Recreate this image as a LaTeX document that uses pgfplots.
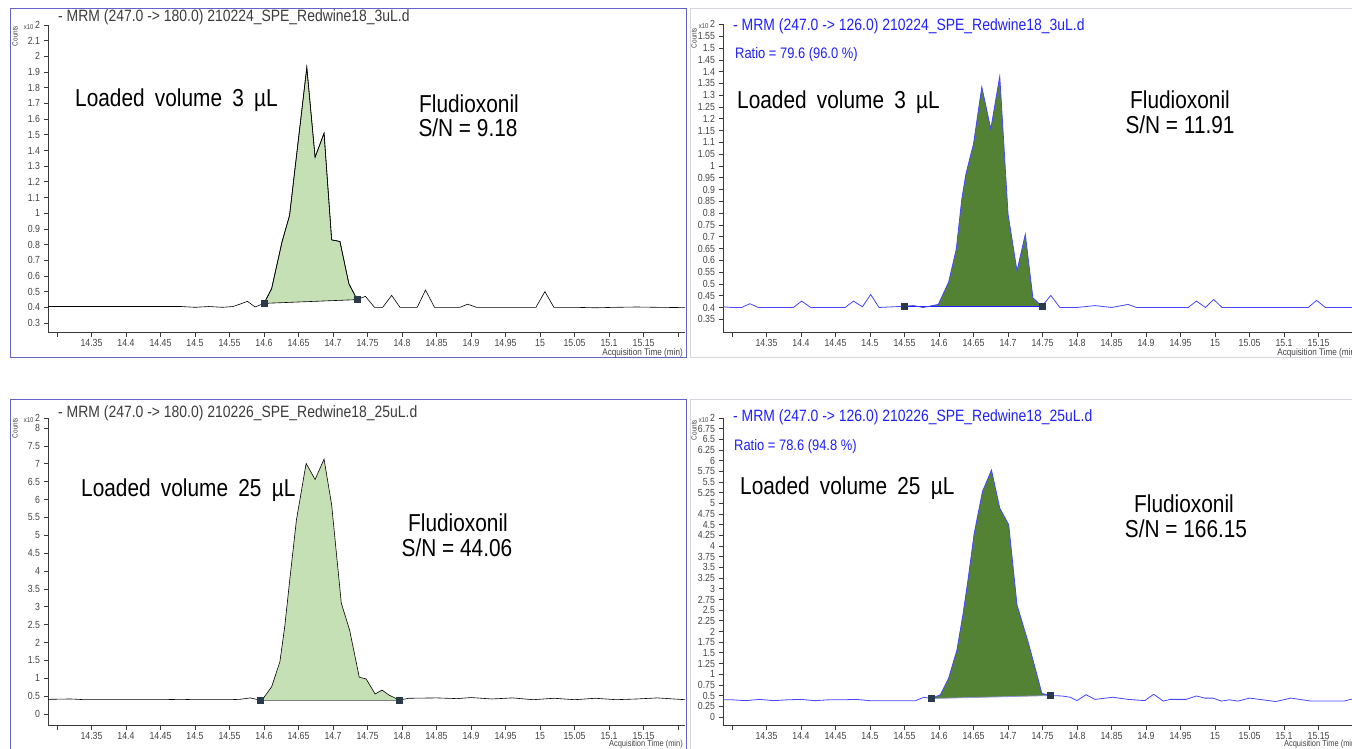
\documentclass[border=0pt]{standalone}
\usepackage{fontspec}
\setmainfont{Liberation Sans}[FakeStretch=0.85]
\usepackage{pgfplots}
\pgfplotsset{compat=1.18}
\definecolor{axcol}{HTML}{3A3A3A}
\definecolor{tickcol}{HTML}{444444}
\definecolor{titlegray}{HTML}{3C3C3C}
\definecolor{mblue}{HTML}{2020FF}
\definecolor{lineblue}{HTML}{4646FF}
\definecolor{lgreen}{HTML}{C5E0B4}
\definecolor{dgreen}{HTML}{548235}
\definecolor{mk}{HTML}{2B3A4A}
\definecolor{frameL}{HTML}{6464C4}
\definecolor{frameR}{HTML}{D6D6DE}
\newcommand{\xten}{{\fontsize{7}{7}\selectfont x10}\,\raisebox{1pt}{2}}
\pgfplotsset{
 mrm/.style={
  anchor=south west, scale only axis, width=637pt,
  axis lines=left, axis line style={-, draw=axcol, line width=1pt},
  xmin=14.287, xmax=15.21,
  xtick={14.3,14.35,14.4,14.45,14.5,14.55,14.6,14.65,14.7,14.75,14.8,14.85,14.9,14.95,15,15.05,15.1,15.15,15.2},
  xticklabels={,14.35,14.4,14.45,14.5,14.55,14.6,14.65,14.7,14.75,14.8,14.85,14.9,14.95,15,15.05,15.1,15.15,},
  tick align=outside, major tick length=4.5pt,
  tick style={draw=axcol, line width=0.7pt},
  ticklabel style={font=\fontsize{10.3}{11}\selectfont, text=tickcol},
  xticklabel style={yshift=1pt},
  yticklabel style={/pgf/number format/fixed,/pgf/number format/precision=2},
  /pgf/number format/assume math mode=true,
  extra y tick style={grid=none},
 },
}
\tikzset{big/.style={font=\fontsize{24.5}{28}\selectfont},
 acq/.style={anchor=east, font=\fontsize{9.6}{10}\selectfont, text=tickcol, inner sep=0},
 acqb/.style={anchor=east, font=\fontsize{8.8}{9}\selectfont, text=tickcol, inner sep=0}}
\newcommand{\wsp}{\hspace{0.42em}}
\begin{document}
\begin{tikzpicture}
\useasboundingbox (0,0) rectangle (1352pt,748pt);
\fill[white] (0,0) rectangle (1352pt,748pt);
% frames
\draw[frameL, line width=1pt] (10pt,390pt) rectangle (686pt,739pt);
\draw[frameL, line width=1pt] (10pt,-5pt) rectangle (686pt,348pt);
\draw[frameR, line width=1pt] (690pt,390pt) rectangle (1365pt,739pt);
\draw[frameR, line width=1pt] (690pt,-5pt) rectangle (1365pt,348pt);

% ---------- Panel 1 ----------
\begin{axis}[mrm, name=p1, at={(48pt,416pt)}, height=307pt,
  ymin=0.2426, ymax=2.2,
  ytick={0.3,0.4,0.5,0.6,0.7,0.8,0.9,1,1.1,1.2,1.3,1.4,1.5,1.6,1.7,1.8,1.9,2,2.1},
  extra y ticks={2.2}, extra y tick labels={\xten}]
\addplot[fill=lgreen, draw=black, line width=0.6pt] coordinates {
(14.60,0.425) (14.611,0.519) (14.626,0.816) (14.637,0.986) (14.662,1.93) (14.674,1.357) (14.687,1.51) (14.698,0.83) (14.710,0.82) (14.723,0.55) (14.735,0.449)} -- cycle;
\addplot[black, line width=0.6pt] coordinates {
(14.287,0.405) (14.30,0.405) (14.48,0.405) (14.50,0.400) (14.52,0.405) (14.54,0.400) (14.555,0.405) (14.565,0.42) (14.576,0.438) (14.587,0.402) (14.60,0.425) (14.611,0.519) (14.626,0.816) (14.637,0.986) (14.662,1.93) (14.674,1.357) (14.687,1.51) (14.698,0.83) (14.710,0.82) (14.723,0.55) (14.735,0.449) (14.747,0.47) (14.760,0.40) (14.772,0.40) (14.785,0.476) (14.797,0.40) (14.81,0.40) (14.822,0.40) (14.834,0.51) (14.847,0.40) (14.884,0.40) (14.895,0.42) (14.908,0.40) (14.994,0.40) (15.007,0.50) (15.02,0.40) (15.05,0.40) (15.08,0.397) (15.11,0.40) (15.14,0.402) (15.17,0.40) (15.21,0.398)};
\addplot[only marks, mark=square*, mark size=3pt, color=mk] coordinates {(14.60,0.425) (14.735,0.449)};
\end{axis}
\node[acq] at ([yshift=-21pt,xshift=-2pt]p1.south east) {Acquisition Time (min)};

% ---------- Panel 2 ----------
\begin{axis}[mrm, name=p2, at={(723pt,416pt)}, height=307.5pt,
  ymin=0.296, ymax=1.6,
  ytick={0.35,0.4,0.45,0.5,0.55,0.6,0.65,0.7,0.75,0.8,0.85,0.9,0.95,1,1.05,1.1,1.15,1.2,1.25,1.3,1.35,1.4,1.45,1.5,1.55},
  extra y ticks={1.6}, extra y tick labels={\xten}]
\addplot[fill=dgreen, draw=none] coordinates {
(14.549,0.405) (14.563,0.408) (14.577,0.40) (14.599,0.413) (14.614,0.508) (14.625,0.647) (14.633,0.86) (14.639,0.966) (14.650,1.094) (14.662,1.335) (14.675,1.157) (14.688,1.38) (14.700,0.796) (14.713,0.555) (14.725,0.71) (14.736,0.441) (14.749,0.405)} -- cycle;
\addplot[mblue, line width=1.6pt] coordinates {(14.549,0.404) (14.749,0.404)};
\addplot[lineblue, line width=0.8pt] coordinates {
(14.287,0.403) (14.30,0.40) (14.314,0.40) (14.326,0.416) (14.338,0.40) (14.389,0.40) (14.401,0.427) (14.414,0.40) (14.464,0.40) (14.476,0.427) (14.489,0.403) (14.501,0.455) (14.513,0.40) (14.549,0.405) (14.563,0.408) (14.577,0.40) (14.599,0.413) (14.614,0.508) (14.625,0.647) (14.633,0.86) (14.639,0.966) (14.650,1.094) (14.662,1.335) (14.675,1.157) (14.688,1.38) (14.700,0.796) (14.713,0.555) (14.725,0.71) (14.736,0.441) (14.749,0.405) (14.762,0.451) (14.775,0.40) (14.80,0.40) (14.826,0.408) (14.85,0.40) (14.874,0.413) (14.886,0.40) (14.961,0.40) (14.973,0.427) (14.986,0.40) (14.998,0.434) (15.01,0.40) (15.135,0.40) (15.147,0.43) (15.16,0.40) (15.21,0.40)};
\addplot[only marks, mark=square*, mark size=3pt, color=mk] coordinates {(14.549,0.405) (14.749,0.405)};
\end{axis}
\node[acq] at ([yshift=-21pt,xshift=-2pt]p2.south east) {Acquisition Time (min)};

% ---------- Panel 3 ----------
\begin{axis}[mrm, name=p3, at={(48pt,23pt)}, height=307pt,
  ymin=-0.308, ymax=8.28,
  ytick={0,0.5,1,1.5,2,2.5,3,3.5,4,4.5,5,5.5,6,6.5,7,7.5,8},
  extra y ticks={8.28}, extra y tick labels={\xten}]
\addplot[fill=lgreen, draw=none] coordinates {
(14.594,0.39) (14.599,0.44) (14.611,0.76) (14.623,1.46) (14.630,2.44) (14.637,3.7) (14.647,5.43) (14.661,7.01) (14.674,6.56) (14.687,7.13) (14.698,5.85) (14.712,3.1) (14.724,2.35) (14.738,1.03) (14.748,0.98) (14.761,0.56) (14.771,0.67) (14.781,0.53) (14.796,0.39)} -- cycle;
\addplot[gray, line width=0.8pt] coordinates {(14.594,0.39) (14.796,0.39)};
\addplot[black, line width=0.6pt] coordinates {
(14.287,0.41) (14.32,0.42) (14.34,0.40) (14.40,0.40) (14.45,0.40) (14.48,0.41) (14.50,0.40) (14.55,0.40) (14.565,0.41) (14.58,0.45) (14.594,0.39) (14.599,0.44) (14.611,0.76) (14.623,1.46) (14.630,2.44) (14.637,3.7) (14.647,5.43) (14.661,7.01) (14.674,6.56) (14.687,7.13) (14.698,5.85) (14.712,3.1) (14.724,2.35) (14.738,1.03) (14.748,0.98) (14.761,0.56) (14.771,0.67) (14.781,0.53) (14.796,0.39) (14.81,0.44) (14.85,0.45) (14.88,0.43) (14.90,0.46) (14.93,0.42) (14.96,0.45) (14.99,0.40) (15.02,0.44) (15.05,0.40) (15.08,0.44) (15.11,0.40) (15.14,0.42) (15.17,0.45) (15.21,0.40)};
\addplot[only marks, mark=square*, mark size=3pt, color=mk] coordinates {(14.594,0.39) (14.796,0.39)};
\end{axis}
\node[acqb] at ([yshift=-19.6pt,xshift=-2pt]p3.south east) {Acquisition Time (min)};

% ---------- Panel 4 ----------
\begin{axis}[mrm, name=p4, at={(723pt,23pt)}, height=307pt,
  ymin=-0.19, ymax=7.0,
  ytick={0,0.25,0.5,0.75,1,1.25,1.5,1.75,2,2.25,2.5,2.75,3,3.25,3.5,3.75,4,4.25,4.5,4.75,5,5.25,5.5,5.75,6,6.25,6.5,6.75},
  extra y ticks={7}, extra y tick labels={\xten}]
\addplot[fill=dgreen, draw=none] coordinates {
(14.589,0.43) (14.602,0.52) (14.614,0.91) (14.626,1.57) (14.635,2.43) (14.642,3.21) (14.651,4.30) (14.663,5.28) (14.676,5.78) (14.688,4.89) (14.701,4.50) (14.713,2.62) (14.729,1.76) (14.742,0.98) (14.749,0.55) (14.761,0.50)} -- cycle;
\addplot[frameL!70, line width=0.8pt] coordinates {(14.589,0.43) (14.761,0.50)};
\addplot[lineblue, line width=0.8pt] coordinates {
(14.287,0.40) (14.30,0.40) (14.32,0.38) (14.34,0.41) (14.36,0.38) (14.38,0.40) (14.40,0.41) (14.42,0.38) (14.44,0.40) (14.46,0.40) (14.48,0.41) (14.50,0.38) (14.53,0.38) (14.566,0.38) (14.578,0.46) (14.589,0.43) (14.602,0.52) (14.614,0.91) (14.626,1.57) (14.635,2.43) (14.642,3.21) (14.651,4.30) (14.663,5.28) (14.676,5.78) (14.688,4.89) (14.701,4.50) (14.713,2.62) (14.729,1.76) (14.742,0.98) (14.749,0.55) (14.761,0.50) (14.778,0.49) (14.79,0.46) (14.80,0.38) (14.813,0.52) (14.826,0.41) (14.852,0.46) (14.874,0.41) (14.898,0.38) (14.911,0.53) (14.925,0.37) (14.935,0.41) (14.958,0.41) (14.973,0.49) (14.985,0.44) (14.997,0.44) (15.009,0.37) (15.021,0.40) (15.033,0.37) (15.05,0.44) (15.069,0.40) (15.088,0.36) (15.11,0.44) (15.139,0.37) (15.187,0.37) (15.196,0.41) (15.21,0.42)};
\addplot[only marks, mark=square*, mark size=3pt, color=mk] coordinates {(14.589,0.43) (14.761,0.50)};
\end{axis}
\node[acqb] at ([yshift=-19.6pt,xshift=-2pt]p4.south east) {Acquisition Time (min)};

% ---------- texts ----------
\node[anchor=west, font=\fontsize{16.4}{18}\selectfont, text=titlegray, inner sep=0] at (58pt,731pt) {- MRM (247.0 -> 180.0) 210224\_SPE\_Redwine18\_3uL.d};
\node[anchor=west, font=\fontsize{16.4}{18}\selectfont, text=mblue, inner sep=0] at (733pt,722pt) {- MRM (247.0 -> 126.0) 210224\_SPE\_Redwine18\_3uL.d};
\node[anchor=west, font=\fontsize{16.4}{18}\selectfont, text=titlegray, inner sep=0] at (58pt,335pt) {- MRM (247.0 -> 180.0) 210226\_SPE\_Redwine18\_25uL.d};
\node[anchor=west, font=\fontsize{16.4}{18}\selectfont, text=mblue, inner sep=0] at (733pt,331pt) {- MRM (247.0 -> 126.0) 210226\_SPE\_Redwine18\_25uL.d};
\node[anchor=west, font=\fontsize{15.2}{17}\selectfont, text=mblue, inner sep=0] at (735pt,693pt) {Ratio = 79.6 (96.0 \%)};
\node[anchor=west, font=\fontsize{15.2}{17}\selectfont, text=mblue, inner sep=0] at (734pt,301pt) {Ratio = 78.6 (94.8 \%)};
\foreach \cx/\cy in {15/712, 694/710, 15/320, 694/318}
  \node[rotate=90, font=\fontsize{7.5}{8}\selectfont, text=tickcol, inner sep=0] at (\cx pt,\cy pt) {Counts};
\node[anchor=west, big, inner sep=0] at (75pt,648pt) {Loaded\wsp volume\wsp 3\wsp µL};
\node[anchor=west, big, inner sep=0] at (737pt,646pt) {Loaded\wsp volume\wsp 3\wsp µL};
\node[anchor=west, big, inner sep=0] at (81pt,258pt) {Loaded\wsp volume\wsp 25\wsp µL};
\node[anchor=west, big, inner sep=0] at (740pt,260pt) {Loaded\wsp volume\wsp 25\wsp µL};
\node[big, inner sep=0] at (469pt,644pt) {Fludioxonil};
\node[big, inner sep=0] at (468pt,620pt) {S/N = 9.18};
\node[big, inner sep=0] at (1180pt,648pt) {Fludioxonil};
\node[big, inner sep=0] at (1180pt,623pt) {S/N = 11.91};
\node[big, inner sep=0] at (458pt,225pt) {Fludioxonil};
\node[big, inner sep=0] at (457pt,200pt) {S/N = 44.06};
\node[big, inner sep=0] at (1184pt,244pt) {Fludioxonil};
\node[big, inner sep=0] at (1186pt,219pt) {S/N = 166.15};
\end{tikzpicture}
\end{document}
